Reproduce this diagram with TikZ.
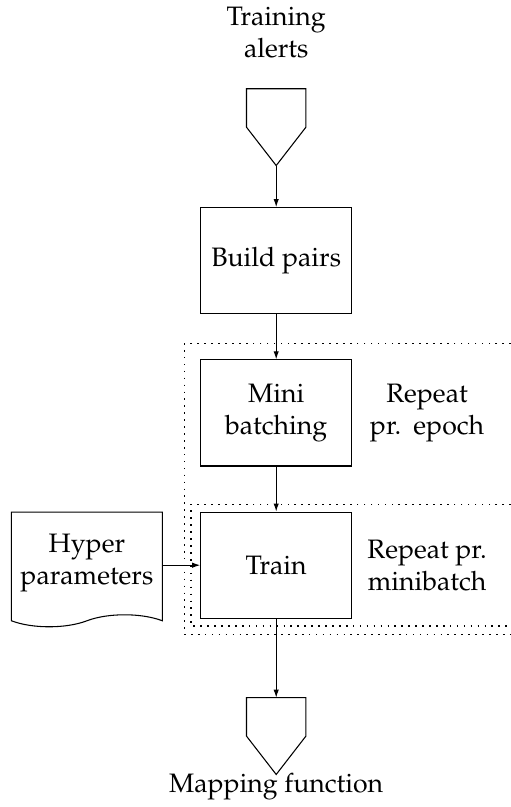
\documentclass[tikz,border=0pt]{standalone}
\usepackage[T1]{fontenc}
\usepackage{mathpazo}
\usepackage{tikz}
\usetikzlibrary{positioning}
\usetikzlibrary{arrows.meta}
\usetikzlibrary{shapes.symbols}
\tikzset{>={Latex[width=2pt,length=3pt]}}
\tikzset{
	procbox/.style={draw, minimum width=56.6pt, minimum height=39.8pt, align=center},
	ioport/.style={minimum width=21.9pt, minimum height=28.4pt, inner sep=0pt},
	docnode/.style={draw, tape, tape bend top=none, tape bend height=4.5pt, minimum width=56.6pt, minimum height=43pt, align=center},
	dotframe/.style={draw, dotted, semithick},
}

\begin{document}
\begin{tikzpicture}
	\useasboundingbox (-103.6pt,-204.9pt) rectangle (88.05pt,97.8pt);
	\coordinate (EDGE) at (88.05pt,0);

	\node (BP) [procbox] at (0,0) {Build pairs};
	\node (IN) [ioport, above=15.6pt of BP] {};
	\node (INTXT) [align=center, above=7.9pt of IN] {Training\\alerts};
	\node (MB) [procbox, below=16.9pt of BP] {Mini\\batching};
	\node (TR) [procbox, below=16.9pt of MB] {Train};
	\node (HP) [docnode, anchor=north east] at ([xshift=-14pt]TR.north west) {Hyper\\parameters};
	\node (OUT) [ioport, below=29.6pt of TR] {};
	\node (OUTTXT) [below=-3.9pt of OUT] {Mapping function};
	\node (EP) [align=center] at ([xshift=28.1pt]MB.east) {Repeat\\pr.\hspace{4.6pt}epoch};
	\node (MBT) [align=center] at ([xshift=28.1pt]TR.east) {Repeat pr.\\minibatch};

	\draw (IN.north west) -- (IN.north east) -- (IN.east) -- (IN.south) -- (IN.west) -- cycle;
	\draw (OUT.north west) -- (OUT.north east) -- (OUT.east) -- (OUT.south) -- (OUT.west) -- cycle;

	\coordinate (O1) at ([xshift=-5.9pt,yshift=5.9pt]MB.north west);
	\coordinate (O2) at ([xshift=-5.9pt,yshift=-5.9pt]TR.south west);
	\coordinate (I1) at ([xshift=-3.4pt,yshift=2.7pt]TR.north west);
	\coordinate (I2) at ([xshift=-3.4pt,yshift=-2.7pt]TR.south west);
	\path [dotframe] (EDGE |- O1) -- (O1) -- (O2) -- (EDGE |- O2);
	\path [dotframe] (EDGE |- I1) -- (I1) -- (I2) -- (EDGE |- I2);

	\path [draw, ->] (IN) -- (BP);
	\path [draw, ->] (BP) -- (MB);
	\path [draw, ->] (MB) -- (TR);
	\path [draw, ->] (TR) -- (OUT);
	\path [draw, ->] (HP.east |- TR) -- (TR);
\end{tikzpicture}
\end{document}
